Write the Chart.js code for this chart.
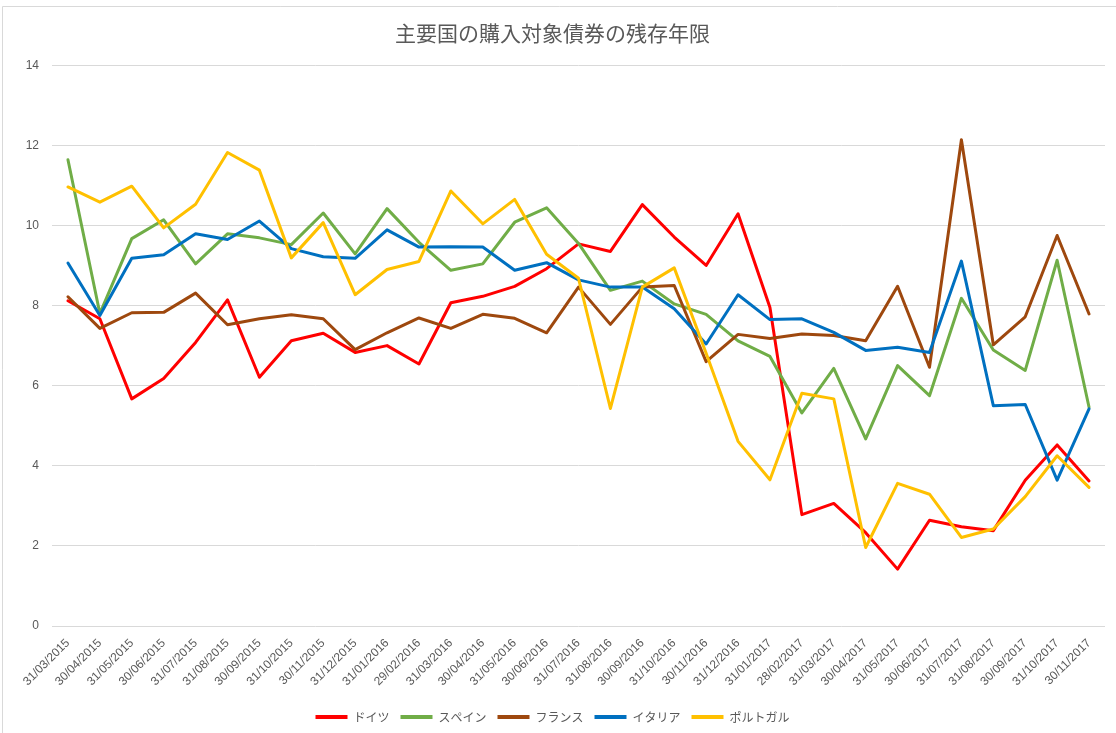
<!DOCTYPE html>
<html>
<head>
<meta charset="utf-8">
<script src="https://cdn.jsdelivr.net/npm/chart.js@4/dist/chart.umd.min.js"></script>
<style>
html,body{margin:0;padding:0;background:#fff;}
#wrap{position:relative;width:1116px;height:733px;}
canvas{display:block;}
</style>
</head>
<body>
<div id="wrap"><canvas id="c" width="1116" height="733"></canvas></div>
<script>
const chartTitle = '主要国の購入対象債券の残存年限';
const categories = ['31/03/2015','30/04/2015','31/05/2015','30/06/2015','31/07/2015','31/08/2015','30/09/2015','31/10/2015','30/11/2015','31/12/2015','31/01/2016','29/02/2016','31/03/2016','30/04/2016','31/05/2016','30/06/2016','31/07/2016','31/08/2016','30/09/2016','31/10/2016','30/11/2016','31/12/2016','31/01/2017','28/02/2017','31/03/2017','30/04/2017','31/05/2017','30/06/2017','31/07/2017','31/08/2017','30/09/2017','31/10/2017','30/11/2017'];
const seriesNames = ['ドイツ','スペイン','フランス','イタリア','ポルトガル'];
const germany  = [8.12,7.67,5.67,6.18,7.08,8.14,6.21,7.12,7.31,6.83,7.00,6.54,8.07,8.23,8.48,8.92,9.54,9.35,10.52,9.71,9.00,10.29,7.95,2.78,3.06,2.33,1.42,2.64,2.48,2.38,3.64,4.52,3.62];
const spain    = [11.64,7.80,9.67,10.14,9.04,9.79,9.69,9.52,10.31,9.29,10.42,9.58,8.88,9.04,10.08,10.44,9.55,8.38,8.61,8.04,7.78,7.12,6.73,5.32,6.43,4.67,6.50,5.75,8.18,6.89,6.38,9.13,5.46];
const france   = [8.22,7.43,7.82,7.83,8.31,7.52,7.67,7.77,7.67,6.90,7.32,7.69,7.43,7.78,7.68,7.32,8.46,7.53,8.46,8.50,6.60,7.28,7.18,7.29,7.25,7.12,8.48,6.46,12.14,7.02,7.72,9.75,7.79];
const italy    = [9.06,7.75,9.18,9.27,9.79,9.65,10.11,9.42,9.22,9.18,9.89,9.46,9.47,9.46,8.88,9.07,8.64,8.46,8.46,7.92,7.04,8.27,7.65,7.67,7.33,6.88,6.96,6.83,9.11,5.50,5.53,3.64,5.42];
const portugal = [10.96,10.58,10.98,9.94,10.53,11.82,11.38,9.19,10.07,8.27,8.90,9.10,10.86,10.04,10.65,9.28,8.68,5.43,8.46,8.94,6.81,4.61,3.65,5.81,5.67,1.96,3.56,3.29,2.21,2.42,3.23,4.25,3.46];
const yTicks = [0,2,4,6,8,10,12,14];

const colors = ['#FF0000','#70AD47','#9E480E','#0070C0','#FFC000'];
const allSeries = [germany, spain, france, italy, portugal];

const textColor = '#595959';
const numFont = "'Liberation Sans', 'Noto Sans CJK JP', sans-serif";
const jpFont = "'Noto Sans CJK JP', 'Noto Sans', sans-serif";

const frame = {
  id: 'frame',
  beforeDraw(chart) {
    const ctx = chart.ctx;
    ctx.save();
    ctx.fillStyle = '#ffffff';
    ctx.fillRect(0, 0, chart.width, chart.height);
    ctx.strokeStyle = '#d9d9d9';
    ctx.lineWidth = 1;
    ctx.beginPath();
    ctx.moveTo(2.5, chart.height);
    ctx.lineTo(2.5, 6.5);
    ctx.lineTo(chart.width, 6.5);
    ctx.stroke();
    ctx.restore();
  }
};

const datasets = seriesNames.map((name, i) => ({
  label: name,
  data: allSeries[i],
  borderColor: colors[i],
  backgroundColor: colors[i],
  borderWidth: 3,
  pointRadius: 0,
  pointHoverRadius: 0,
  tension: 0,
  fill: false,
  borderJoinStyle: 'round',
  borderCapStyle: 'round',
  order: seriesNames.length - 1 - i
}));

new Chart(document.getElementById('c'), {
  type: 'line',
  data: { labels: categories, datasets },
  plugins: [frame],
  options: {
    responsive: false,
    animation: false,
    devicePixelRatio: 1,
    layout: { padding: { left: 0, right: 11, top: 0, bottom: 0 } },
    plugins: {
      title: {
        display: true,
        text: chartTitle,
        color: textColor,
        font: { family: jpFont, size: 21, weight: 'normal', lineHeight: 1.2 },
        padding: { top: 20, bottom: 20 }
      },
      legend: {
        position: 'bottom',
        labels: {
          color: textColor,
          font: { family: jpFont, size: 12 },
          boxWidth: 32,
          boxHeight: 4,
          padding: 11,
          sort: (a, b) => a.datasetIndex - b.datasetIndex,
          generateLabels(chart) {
            const items = Chart.defaults.plugins.legend.labels.generateLabels(chart);
            items.forEach(it => { it.lineWidth = 0; });
            return items;
          }
        }
      },
      tooltip: { enabled: false }
    },
    scales: {
      x: {
        type: 'category',
        offset: true,
        grid: { display: false },
        border: { display: false },
        ticks: {
          autoSkip: false,
          maxRotation: 45,
          minRotation: 45,
          color: textColor,
          font: { family: numFont, size: 12 },
          padding: 2
        },
        afterFit(scale) { scale.height = 74; }
      },
      y: {
        min: 0,
        max: 14,
        afterBuildTicks(scale) { scale.ticks = yTicks.map(v => ({ value: v })); },
        grid: { color: '#d9d9d9', lineWidth: 1, drawTicks: false },
        border: { display: false },
        ticks: {
          color: textColor,
          font: { family: numFont, size: 12 },
          padding: 13
        },
        afterFit(scale) { scale.width = 52; }
      }
    }
  }
});
</script>
</body>
</html>
